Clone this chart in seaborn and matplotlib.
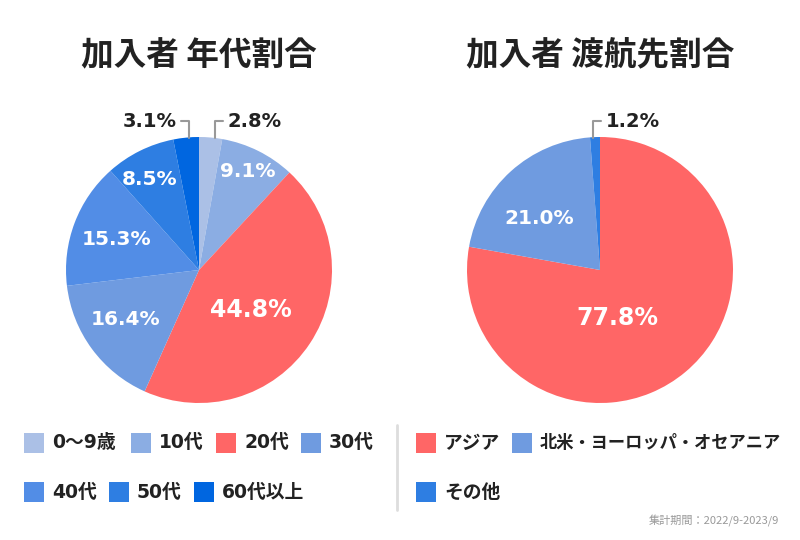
import numpy as np
import matplotlib
matplotlib.use("Agg")
import matplotlib.pyplot as plt
import seaborn as sns
from matplotlib.patches import Rectangle
from matplotlib.lines import Line2D

# data
age_labels = ["0〜9歳", "10代", "20代", "30代", "40代", "50代", "60代以上"]
age_values = [2.8, 9.1, 44.8, 16.4, 15.3, 8.5, 3.1]
age_colors = ["#abc0e6", "#8badE3", "#ff6666", "#6f9be0", "#528de6", "#2e7ee2", "#0066e0"]

dest_labels = ["アジア", "北米・ヨーロッパ・オセアニア", "その他"]
dest_values = [77.8, 21.0, 1.2]
dest_colors = ["#ff6666", "#6f9be0", "#2e7ee2"]

titles = ["加入者 年代割合", "加入者 渡航先割合"]
period_note = "集計期間：2022/9-2023/9"

sns.set_theme(style="white")
plt.rcParams["font.family"] = ["Noto Sans CJK JP", "DejaVu Sans"]
NUM_FONT = ["DejaVu Sans", "Noto Sans CJK JP"]

W, H = 800, 540
TEXT = "#222222"
fig = plt.figure(figsize=(8, 5.4), dpi=100)
fig.patch.set_facecolor("white")
renderer = fig.canvas.get_renderer()

R = 133  # pie radius in px


def pie_axes(cx, cy):
    ax = fig.add_axes([(cx - R) / W, (H - cy - R) / H, 2 * R / W, 2 * R / H])
    ax.set_xlim(-1, 1)
    ax.set_ylim(-1, 1)
    ax.set_axis_off()
    return ax


def draw_pie(ax, values, colors, inside, outside):
    ax.pie(values, colors=colors, startangle=90, counterclock=False,
           radius=1, wedgeprops=dict(linewidth=0))
    ax.set_xlim(-1, 1)
    ax.set_ylim(-1, 1)
    for i, (x, y, fs) in inside.items():
        ax.text(x, y, f"{values[i]:.1f}%", color="white", fontsize=fs,
                fontweight="bold", ha="center", va="center", family=NUM_FONT)
    # small slices: label outside with an elbow leader line
    for i, (x0, side) in outside.items():
        ty = 1.12
        hx = x0 + side * 0.06
        ax.add_line(Line2D([x0, x0, hx], [0.99, ty, ty], color="#999999",
                           linewidth=1.5, clip_on=False))
        ax.text(hx + side * 0.035, ty, f"{values[i]:.1f}%", color=TEXT,
                fontsize=14, fontweight="bold", ha="left" if side > 0 else "right",
                va="center", clip_on=False, family=NUM_FONT)


ax1 = pie_axes(199, 270)
draw_pie(ax1, age_values, age_colors,
         inside={1: (0.37, 0.74, 14.5), 2: (0.39, -0.30, 17), 3: (-0.55, -0.37, 14.5),
                 4: (-0.62, 0.23, 14.5), 5: (-0.37, 0.68, 14.5)},
         outside={0: (0.12, 1), 6: (-0.075, -1)})

ax2 = pie_axes(600, 270)
draw_pie(ax2, dest_values, dest_colors,
         inside={0: (0.13, -0.36, 17), 1: (-0.46, 0.39, 14.5)},
         outside={2: (-0.053, 1)})

for cx, t in zip([199, 600], titles):
    fig.text(cx / W, 1 - 56 / H, t, ha="center", va="center", fontsize=23.5,
             fontweight="bold", color=TEXT)


def legend_items(items, slots, right_edge):
    for (lab, col), (x, y) in zip(items, slots):
        fig.patches.append(Rectangle((x / W, 1 - (y + 10) / H), 20 / W, 20 / H,
                                     transform=fig.transFigure, facecolor=col,
                                     edgecolor="none"))
        t = fig.text((x + 28) / W, 1 - y / H, lab, ha="left", va="center",
                     fontsize=13.5, fontweight="bold", color=TEXT, family=NUM_FONT)
        # shrink long labels so they stay inside the panel
        width = t.get_window_extent(renderer).width
        if x + 28 + width > right_edge:
            t.set_fontsize(13.5 * (right_edge - x - 28) / width)


legend_items(zip(age_labels, age_colors),
             [(24, 443), (131, 443), (216, 443), (301, 443),
              (24, 492), (109, 492), (194, 492)], 390)
legend_items(zip(dest_labels, dest_colors),
             [(416, 443), (512, 443), (416, 492)], 781)

fig.add_artist(Line2D([397 / W, 397 / W], [1 - 425 / H, 1 - 510 / H],
                      color="#dddddd", linewidth=2, transform=fig.transFigure))

fig.text(779 / W, 1 - 521 / H, period_note, ha="right", va="center",
         fontsize=8, color="#999999")

fig.savefig("out.png", dpi=100, facecolor="white")
